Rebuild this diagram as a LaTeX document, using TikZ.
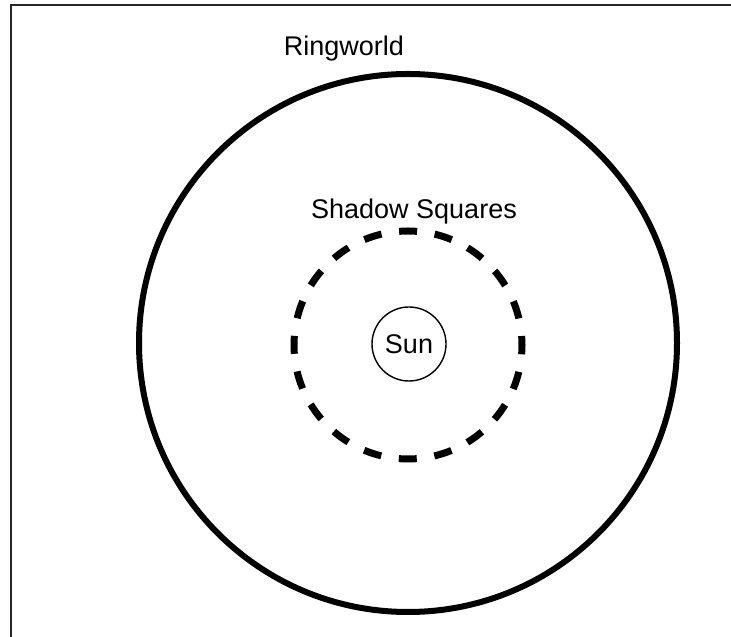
\documentclass[tikz,border=0pt]{standalone}
\usepackage{fontspec}
\setmainfont{Liberation Sans}
\usetikzlibrary{positioning}

\begin{document}
\begin{tikzpicture}[
  x=1pt, y=1pt,
  orbit/.style={
    circle, draw=black, inner sep=0pt, outer sep=0pt,
    minimum size=#1,
  },
  ringline/.style={line width=6pt},
  shadowline/.style={line width=7pt, dash pattern=on 18pt off 17.8pt, dash phase=9pt},
  sunline/.style={line width=1.4pt},
  lbl/.style={font=\fontsize{27}{32}\selectfont, inner sep=0pt, anchor=base},
]
  \useasboundingbox (0,0) rectangle (731,637);

  % frame (top and left only)
  \draw[line width=2pt, black!85] (11,0) -- (11,632) -- (731,632);

  % Ringworld
  \node[orbit=538pt, ringline] (ring) at (408,294) {};
  \node[lbl] (ringlbl) at (344,581) {Ringworld};

  % Shadow Squares
  \node[orbit=228pt, shadowline] (shadow) at (408,292) {};
  \node[lbl] (shadowlbl) at (414,418) {Shadow Squares};

  % Sun
  \node[orbit=74pt, sunline, font=\fontsize{27}{32}\selectfont] (sun) at (409,293) {Sun};

\end{tikzpicture}
\end{document}
